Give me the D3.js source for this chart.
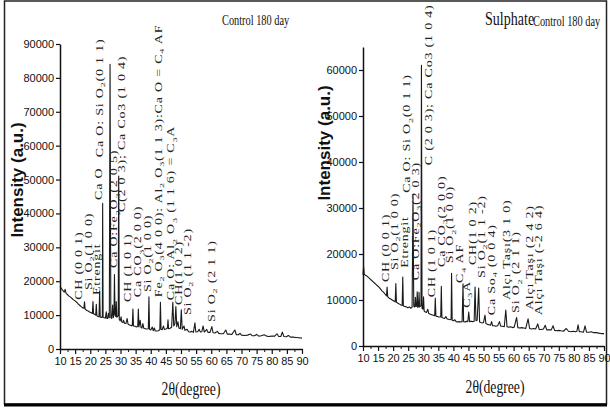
<!DOCTYPE html>
<html>
<head>
<meta charset="utf-8">
<script src="https://cdn.jsdelivr.net/npm/d3@7/dist/d3.min.js"></script>
<style>
  html, body { margin: 0; padding: 0; background: #fff; }
  svg { display: block; }
  .axis path, .axis line { stroke: #111; }
  .axis text { font-family: "Liberation Sans Narrow", "Arial Narrow", "Liberation Sans", sans-serif; font-size: 11px; fill: #111; }
  .peak-label { font-family: "Liberation Serif", "Times New Roman", serif; fill: #222; letter-spacing: 0.8px; }
</style>
</head>
<body>
<div id="chart"></div>
<script>
;(function() {
  'use strict';

  // 2-theta ticks shared by both patterns.
  var thetaTicks = [10, 15, 20, 25, 30, 35, 40, 45, 50, 55, 60, 65, 70, 75, 80, 85, 90];
  var controlYTicks = [0, 10000, 20000, 30000, 40000, 50000, 60000, 70000, 80000, 90000];
  var sulphateYTicks = [0, 10000, 20000, 30000, 40000, 50000, 60000];

  // Control 180 day pattern, [2theta, intensity].
  var controlTrace = [
    [10.0,18500],[10.5,17800],[11.0,17200],[11.4,16800],[11.7,17600],[12.0,16400],[12.5,16000],[13.0,15600],
    [13.5,15300],[14.0,14900],[14.5,14500],[15.0,14200],[15.5,13800],[16.0,13300],[16.5,12900],[17.0,12500],
    [17.6,12100],[17.9,12000],[18.1,13900],[18.3,11800],[18.8,11400],[19.3,11200],[19.8,10900],[20.3,10700],
    [20.7,10500],[20.9,14000],[21.1,10400],[21.5,10200],[21.8,10000],[22.0,13200],[22.2,9800],[22.6,9600],
    [22.9,9500],[23.1,17000],[23.3,9400],[23.7,9300],[24.0,9500],[24.1,43000],[24.25,9300],[24.7,9200],
    [25.0,9100],[25.3,11000],[25.5,9000],[25.8,9000],[26.0,10500],[26.3,9200],[26.55,84000],[26.8,9300],
    [27.1,9000],[27.4,13000],[27.6,9200],[27.85,10500],[28.0,22000],[28.2,10000],[28.45,9600],[28.6,14000],
    [28.8,9400],[29.25,9800],[29.4,51000],[29.6,8800],[29.9,8300],[30.2,9500],[30.4,8000],[30.8,7800],
    [31.0,8500],[31.3,7600],[31.8,7500],[32.2,9000],[32.5,7300],[33.0,7100],[33.5,6900],[33.9,6900],
    [34.1,11800],[34.3,6800],[34.8,6700],[35.3,6500],[35.7,6700],[35.9,11800],[36.1,6500],[36.5,8500],
    [36.8,6300],[37.1,6200],[37.4,7500],[37.7,6100],[38.2,6000],[38.7,5900],[39.2,6000],[39.4,15400],
    [39.6,5800],[40.0,5600],[40.5,6500],[40.8,5400],[41.2,6200],[41.5,5300],[42.0,5300],[42.5,5400],
    [43.0,5700],[43.2,13800],[43.4,5800],[43.8,5700],[44.2,6800],[44.5,5800],[45.0,5900],[45.5,6100],
    [45.7,8600],[45.9,6000],[46.4,6100],[46.9,6400],[47.3,13800],[47.6,6800],[48.0,7500],[48.3,12500],
    [48.6,6600],[49.0,8000],[49.3,6200],[49.8,6000],[50.1,11600],[50.4,5800],[51.0,6800],[51.3,5500],
    [52.0,5800],[52.5,5100],[53.0,5000],[53.6,5200],[54.1,4900],[54.6,7700],[54.9,5000],[55.5,5100],
    [56.0,5800],[56.4,5000],[56.9,5100],[57.3,6800],[57.7,5000],[58.5,5800],[58.9,4900],[59.6,4900],
    [60.2,6600],[60.6,4800],[61.2,4700],[62.0,5200],[62.5,4600],[63.2,4500],[64.0,4500],[64.8,5600],
    [65.3,4400],[66.0,4400],[66.8,4300],[67.8,5600],[68.3,4200],[69.0,4200],[69.5,4600],[70.0,4100],
    [71.0,4000],[72.0,4100],[73.0,4400],[73.6,3900],[74.3,3900],[75.0,4300],[75.7,3800],[76.5,3900],
    [77.5,4200],[78.3,3800],[79.0,3700],[80.0,3800],[81.0,3800],[81.7,4500],[82.3,3700],[83.0,3700],
    [83.5,5000],[84.0,3700],[84.8,3600],[85.5,4000],[86.2,3500],[87.0,3500],[88.0,3400],[89.0,3300],
    [90.0,3200]
  ];

  // Sulphate pattern.
  var sulphateTrace = [
    [10.0,15500],[10.2,17200],[10.4,15600],[10.8,15400],[11.3,15200],[11.8,14900],[12.3,14600],[12.8,14300],
    [13.3,14000],[13.8,13700],[14.3,13400],[14.8,13100],[15.3,12800],[15.8,12400],[16.3,12000],[16.8,11700],
    [17.3,11300],[17.8,10900],[18.0,12800],[18.2,10700],[18.7,10400],[19.2,10200],[19.7,10000],[20.2,9800],
    [20.7,9600],[20.9,13600],[21.1,9500],[21.6,9300],[22.1,9100],[22.6,8900],[23.0,8800],[23.2,15000],
    [23.4,8700],[23.9,8600],[24.4,8500],[24.9,8300],[25.4,8500],[25.9,8200],[26.3,8400],[26.6,33000],
    [26.85,8600],[27.2,8500],[27.4,10600],[27.6,8600],[27.85,8700],[28.0,11800],[28.2,8400],[28.45,8500],
    [28.6,11700],[28.8,8500],[29.25,8800],[29.4,61000],[29.6,8200],[29.9,8000],[30.1,10700],[30.3,7600],
    [30.7,7400],[31.1,7300],[31.5,8000],[31.8,7100],[32.3,6900],[32.8,6800],[33.3,6700],[33.8,6600],
    [34.0,10400],[34.2,6500],[34.7,6400],[35.2,6300],[35.8,6300],[36.0,13000],[36.2,6200],[36.6,6100],
    [37.1,6000],[37.5,6400],[37.9,5900],[38.4,5800],[38.9,5700],[39.25,5800],[39.4,15800],[39.6,5600],
    [40.0,5500],[40.5,5700],[40.9,5300],[41.4,5200],[41.9,5300],[42.4,5200],[42.9,5300],[43.2,13500],
    [43.4,5300],[43.9,5200],[44.4,5400],[44.8,5300],[45.1,7400],[45.4,5300],[45.9,5400],[46.4,5300],
    [46.9,5400],[47.2,12800],[47.5,5500],[47.9,5600],[48.4,12600],[48.7,5200],[49.1,5100],[49.6,5000],
    [50.0,5100],[50.5,6700],[50.8,4900],[51.3,4700],[51.8,4600],[52.3,4500],[52.7,5300],[53.0,4400],
    [53.6,4400],[54.1,4300],[54.7,4400],[55.3,5300],[55.7,4300],[56.3,4300],[56.9,4200],[57.4,7800],
    [57.8,4200],[58.4,4100],[59.0,4200],[59.6,4000],[60.2,4100],[61.0,6200],[61.4,4000],[62.0,3900],
    [62.7,4000],[63.4,3900],[64.0,3800],[64.8,5900],[65.3,3800],[65.9,3700],[66.6,3800],[67.3,3700],
    [68.0,4800],[68.5,3600],[69.2,3600],[69.9,3700],[70.5,4500],[71.0,3500],[71.8,3500],[72.5,3500],
    [73.1,4400],[73.6,3400],[74.3,3300],[75.0,3400],[75.7,3300],[76.5,3200],[77.5,3800],[78.2,3200],
    [79.0,3100],[79.8,3200],[80.5,3100],[81.0,3200],[81.4,4600],[81.8,3100],[82.5,3100],[83.2,3000],
    [83.7,4400],[84.2,3000],[85.0,3000],[85.8,3100],[86.6,2900],[87.4,2900],[88.2,2800],[89.0,2700],
    [90.0,2700]
  ];

  // Phase labels: [text, 2theta, intensity where the text starts]. "_x" = subscript.
  var controlLabels = [
    ['CH (0 0 1)', 16.0, 14500],
    ['Si O_2(1 0 0)', 19.3, 17400],
    ['Etrengit', 22.2, 15900],
    ['Ca O', 22.6, 44000],
    ['Ca O: Si O_2(0 1 1)', 23.2, 56600],
    ['Ca O:Fe_2O_3(2 0 5)', 27.85, 23900],
    ['C(2 0 3); Ca Co3 (1 0 4)', 30.5, 40400],
    ['CH (1 0 1)', 32.5, 13900],
    ['Ca CO_3(2 0 0)', 35.8, 15300],
    ['Si O_2(1 0 0)', 38.8, 16800],
    ['Fe_2 O_3(4 0 0): Al_2 O_3(1 1 3):Ca O = C_4 AF', 42.7, 15300],
    ['Ca O: Al_2 O_3 (1 1 6) = C_3A', 46.7, 14400],
    ['CH(1 0 2)', 49.2, 13000],
    ['Si O_2 (1 1 -2)', 52.3, 10000],
    ['Si O_2 (2 1 1)', 60.2, 8000]
  ];

  var sulphateLabels = [
    ['CH (0 0 1)', 17.6, 13900],
    ['Si O_2(1 0 0)', 20.6, 16500],
    ['Etrengit', 23.9, 17000],
    ['Ca O: Si O_2(0 1 1)', 24.6, 33300],
    ['Ca O:Fe_2O_3(2 0 3)', 27.3, 14300],
    ['C (2 0 3); Ca Co3 (1 0 4)', 31.9, 39300],
    ['CH (1 0 1)', 32.9, 10600],
    ['Ca CO_3(2 0 0)', 36.2, 17200],
    ['Si O_2(1 0 0)', 38.9, 18000],
    ['C_4 AF', 42.2, 13700],
    ['C_3A', 44.5, 8300],
    ['CH(1 0 2)', 46.5, 17600],
    ['Si O_2(1 1 -2)', 49.2, 14800],
    ['Ca So_4 (0 0 4)', 52.8, 6700],
    ['Alçı Taşı(3 1 0)', 57.5, 10000],
    ['Si O_2 (2 1 1)', 60.8, 7200],
    ['Alçı Taşı (2 4 2)', 65.4, 7800],
    ['Alçı Taşı (-2 6 4)', 68.4, 6700]
  ];

  var width = 610, height = 410;

  var svg = d3.select('#chart').append('svg')
      .attr('width', width)
      .attr('height', height);

  // Outer frame of the figure.
  svg.append('rect')
      .attr('x', 4.5).attr('y', 1)
      .attr('width', 602).attr('height', 403)
      .attr('fill', 'none')
      .attr('stroke', '#222')
      .attr('stroke-width', 1.5);
  svg.append('line')
      .attr('x1', 4).attr('x2', 607)
      .attr('y1', 405).attr('y2', 405)
      .attr('stroke', '#000')
      .attr('stroke-width', 3);

  /**
   * Writes a string with "_n" subscripts into a text element.
   */
  function fillText(text, str) {
    var parts = str.split(/_(\d)/);
    var shift = 0;
    parts.forEach(function(p, i) {
      if (p === '') return;
      var span = text.append('tspan').text(p);
      if (i % 2 === 1) {
        span.attr('dy', 3 - shift).attr('font-size', '0.72em');
        shift = 3;
      } else if (shift) {
        span.attr('dy', -shift);
        shift = 0;
      }
    });
  }

  function translation(x, y) {
    return 'translate(' + x + ',' + y + ')';
  }

  function drawPanel(p) {
    var x = d3.scaleLinear().domain([10, 90]).range([p.left, p.right]);
    var y = d3.scaleLinear().domain([0, p.yMax]).range([p.bottom, p.top]);

    var g = svg.append('g');

    // The pattern itself.
    var line = d3.line()
        .x(function(d) { return x(d[0]); })
        .y(function(d) { return y(d[1]); });

    g.append('path')
        .datum(p.trace)
        .attr('d', line)
        .attr('fill', 'none')
        .attr('stroke', '#1a1a1a')
        .attr('stroke-width', 1.1)
        .attr('stroke-linejoin', 'round');

    // Minor ticks halfway between labelled ones.
    var minor = thetaTicks.slice(0, -1).map(function(t) { return t + 2.5; });
    g.append('g')
        .attr('class', 'axis')
        .attr('transform', translation(0, p.bottom))
        .call(d3.axisBottom(x).tickValues(minor).tickSize(3).tickFormat(''))
        .call(function(s) { s.select('.domain').remove(); });

    g.append('g')
        .attr('class', 'axis')
        .attr('transform', translation(0, p.bottom))
        .call(d3.axisBottom(x).tickValues(thetaTicks).tickSizeInner(5).tickSizeOuter(0).tickPadding(3))
        .call(function(s) {
          s.select('.domain').attr('stroke-width', 1.5);
          s.selectAll('line').attr('stroke-width', 1.2);
        });

    g.append('g')
        .attr('class', 'axis')
        .attr('transform', translation(p.left, 0))
        .call(d3.axisLeft(y).tickValues(p.yTicks).tickSizeInner(4).tickSizeOuter(0)
              .tickPadding(2).tickFormat(d3.format('d')))
        .call(function(s) {
          s.select('.domain').attr('stroke-width', 1.5);
          s.selectAll('line').attr('stroke-width', 1.2);
        });

    // Phase labels, rotated, squeezed across like the source image.
    p.labels.forEach(function(l) {
      var t = g.append('text')
          .attr('class', 'peak-label')
          .attr('font-size', 14)
          .attr('dy', '0.35em')
          .attr('transform', translation(x(l[1]), y(l[2])) + ' rotate(-90) scale(1,0.7)');
      fillText(t, l[0]);
    });

    // Axis titles.
    g.append('text')
        .attr('transform', translation(p.yTitleX, p.yTitleY) + ' rotate(-90)')
        .attr('text-anchor', 'middle')
        .attr('font-family', '"Liberation Sans", Arial, sans-serif')
        .attr('font-weight', 'bold')
        .attr('font-size', 17)
        .attr('fill', '#111')
        .text('Intensity (a.u.)');

    g.append('text')
        .attr('transform', translation(p.xTitleX, p.xTitleY) + ' scale(0.76,1)')
        .attr('text-anchor', 'middle')
        .attr('font-family', '"Liberation Serif", "Times New Roman", serif')
        .attr('font-size', 18)
        .attr('fill', '#111')
        .text('2\u03b8(degree)');

    return g;
  }

  drawPanel({
    left: 60, right: 302, top: 44, bottom: 349,
    yMax: 90000, yTicks: controlYTicks,
    trace: controlTrace, labels: controlLabels,
    yTitleX: 23, yTitleY: 180, xTitleX: 191, xTitleY: 395
  });

  drawPanel({
    left: 363, right: 604, top: 47, bottom: 346,
    yMax: 65000, yTicks: sulphateYTicks,
    trace: sulphateTrace, labels: sulphateLabels,
    yTitleX: 330, yTitleY: 143, xTitleX: 495, xTitleY: 393
  });

  // Titles.
  var serif = '"Liberation Serif", "Times New Roman", serif';
  svg.append('text')
      .attr('transform', translation(222, 25) + ' scale(0.74,1)')
      .attr('font-family', serif).attr('font-size', 14).attr('fill', '#111')
      .text('Control 180 day');
  svg.append('text')
      .attr('transform', translation(485, 25) + ' scale(0.74,1)')
      .attr('font-family', serif).attr('font-size', 19).attr('fill', '#111')
      .text('Sulphate');
  svg.append('text')
      .attr('transform', translation(533, 26) + ' scale(0.74,1)')
      .attr('font-family', serif).attr('font-size', 14).attr('fill', '#111')
      .text('Control 180 day');

}());
</script>
</body>
</html>
